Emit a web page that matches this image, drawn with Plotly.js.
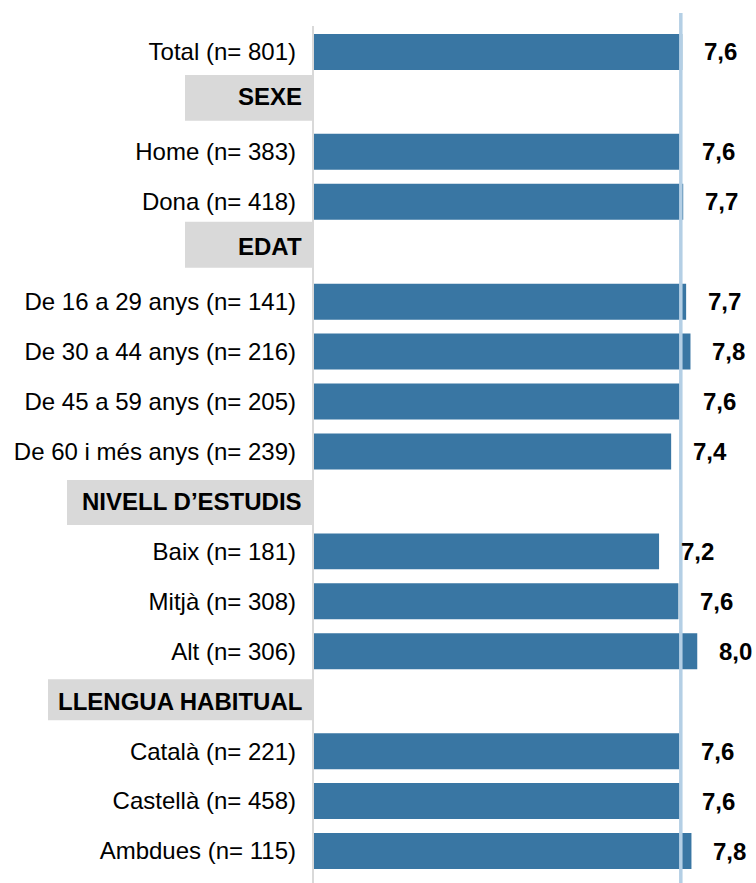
<!DOCTYPE html>
<html>
<head>
<meta charset="utf-8">
<script src="https://cdn.plot.ly/plotly-3.0.1.min.js"></script>
<style>
html,body{margin:0;padding:0;background:#fff;}
#chart{width:756px;height:883px;}
</style>
</head>
<body>
<div id="chart"></div>
<script>
const categories = ['Total (n= 801)', 'SEXE', 'Home (n= 383)', 'Dona (n= 418)', 'EDAT',
  'De 16 a 29 anys (n= 141)', 'De 30 a 44 anys (n= 216)', 'De 45 a 59 anys (n= 205)', 'De 60 i més anys (n= 239)',
  'NIVELL D’ESTUDIS', 'Baix (n= 181)', 'Mitjà (n= 308)', 'Alt (n= 306)',
  'LLENGUA HABITUAL', 'Català (n= 221)', 'Castellà (n= 458)', 'Ambdues (n= 115)'];
const values = [7.64, null, 7.60, 7.66, null, 7.72, 7.81, 7.62, 7.41, null, 7.16, 7.56, 7.95, null, 7.58, 7.60, 7.83];
const valueLabels = ['7,6', '', '7,6', '7,7', '', '7,7', '7,8', '7,6', '7,4', '', '7,2', '7,6', '8,0', '', '7,6', '7,6', '7,8'];
const headers = ['SEXE', 'EDAT', 'NIVELL D’ESTUDIS', 'LLENGUA HABITUAL'];
const referenceValue = 7.61;

const FONT = 'Liberation Sans, Arial, sans-serif';
const FS = 24;
const PLOT_W = 756 - 313 - 8;

const tickText = categories.map(c => headers.includes(c) ? '' : c);

const trace = {
  type: 'bar',
  orientation: 'h',
  y: categories,
  x: values,
  width: 0.72,
  marker: {color: '#3976a3'},
  hoverinfo: 'none'
};

// header box geometry (style only): left pixel, top/bottom offsets in row units, text shift
const headerBoxes = {
  'SEXE': {left: 185, top: -0.54, bottom: 0.38, shift: 5},
  'EDAT': {left: 185, top: -0.60, bottom: 0.32, shift: 5},
  'NIVELL D’ESTUDIS': {left: 67, top: -0.43, bottom: 0.47, shift: 0},
  'LLENGUA HABITUAL': {left: 48, top: -0.44, bottom: 0.38, shift: 0}
};

const shapes = [];
const annotations = [];

headers.forEach(h => {
  const idx = categories.indexOf(h);
  const b = headerBoxes[h];
  shapes.push({
    type: 'rect', xref: 'paper', yref: 'y',
    x0: (b.left - 313) / PLOT_W, x1: -1 / PLOT_W,
    y0: idx + b.top, y1: idx + b.bottom,
    fillcolor: '#d9d9d9', line: {width: 0}, layer: 'below'
  });
  annotations.push({
    xref: 'paper', yref: 'y', x: 0, y: h, xanchor: 'right', yanchor: 'middle',
    xshift: -9, yshift: b.shift, showarrow: false,
    text: '<b>' + h + '</b>', font: {family: FONT, size: FS, color: '#000'}
  });
});

// axis line
shapes.push({
  type: 'line', xref: 'paper', yref: 'y', x0: 0, x1: 0, y0: -0.52, y1: 16.7,
  line: {color: '#d9d9d9', width: 2}
});
// reference line
shapes.push({
  type: 'line', xref: 'x', yref: 'y', x0: referenceValue, x1: referenceValue, y0: -0.78, y1: 16.7,
  line: {color: '#b4cfe5', width: 3.5}, layer: 'above'
});

values.forEach((v, i) => {
  if (v === null) return;
  annotations.push({
    xref: 'x', yref: 'y', x: v, y: categories[i], xanchor: 'left', yanchor: 'middle',
    xshift: 20, showarrow: false,
    text: '<b>' + valueLabels[i] + '</b>', font: {family: FONT, size: FS, color: '#000'}
  });
});

const layout = {
  width: 756, height: 883,
  margin: {l: 313, r: 8, t: 0, b: 0, pad: 0},
  paper_bgcolor: '#fff', plot_bgcolor: '#fff',
  showlegend: false,
  xaxis: {range: [0, 9], visible: false, fixedrange: true},
  yaxis: {
    type: 'category', range: [16.64, -1.04],
    tickmode: 'array', tickvals: categories, ticktext: tickText,
    ticks: '', showline: false, showgrid: false, zeroline: false,
    ticklabelstandoff: 16,
    tickfont: {family: FONT, size: FS, color: '#000'},
    fixedrange: true
  },
  shapes: shapes,
  annotations: annotations
};

Plotly.newPlot('chart', [trace], layout, {displayModeBar: false, staticPlot: true});
</script>
</body>
</html>
